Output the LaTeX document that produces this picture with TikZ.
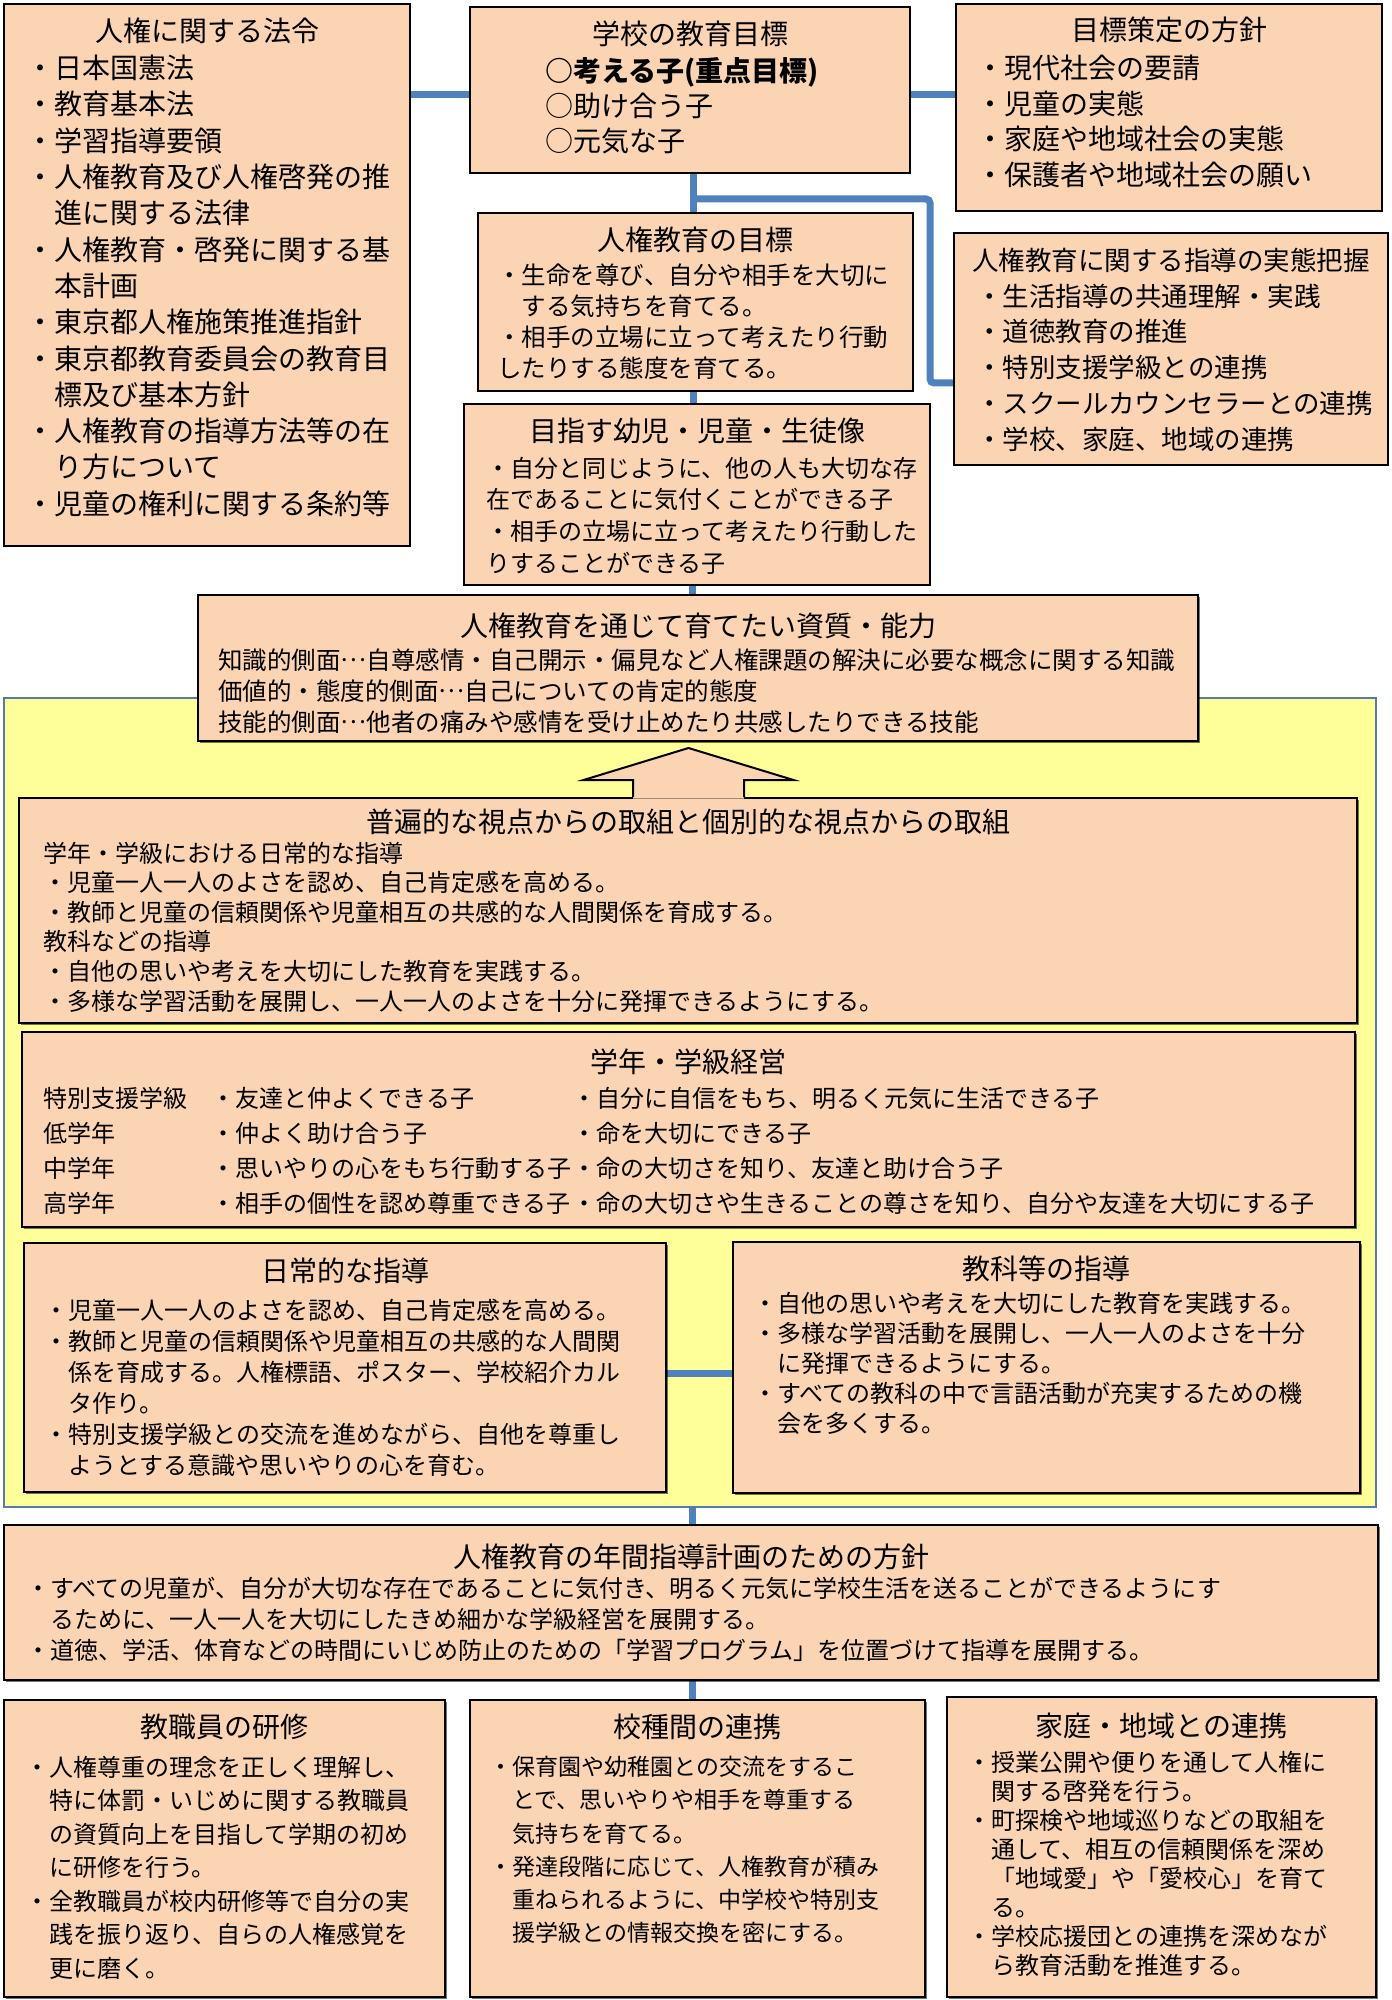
\documentclass[tikz,border=0pt]{standalone}
\usepackage{fontspec}
\setmainfont{Noto Sans CJK JP}
\usetikzlibrary{fit,calc,shadows}
\definecolor{peach}{HTML}{FBD4B4}
\definecolor{paleyellow}{HTML}{FFFF99}
\definecolor{connblue}{HTML}{4F81BD}
\definecolor{frameblue}{HTML}{5A78AE}
\newcommand\fsz[2]{\fontsize{#1}{#2}\selectfont}
\newcommand\middots{\raisebox{0.32em}{…}}
\pgfdeclarelayer{back}
\pgfdeclarelayer{lines}
\pgfsetlayers{back,lines,main}
\begin{document}
\begin{tikzpicture}[x=0.5pt,y=-0.5pt,
  box/.style={draw=black, line width=1pt, fill=peach, inner sep=0pt},
  sbox/.style={box, drop shadow={shadow xshift=1pt, shadow yshift=-1pt, opacity=0.55, fill=black}},
  conn/.style={draw=connblue, line width=3.5pt},
  ttl/.style={inner sep=0pt, anchor=base, font=\fsz{14}{17}},
  txt/.style={inner sep=0pt, anchor=base west, align=left},
]
\useasboundingbox (0,0) rectangle (1391,2000);

\begin{pgfonlayer}{back}
\node[fit={(4,698) (1376,1507)}, inner sep=0pt, draw=frameblue, line width=0.8pt, fill=paleyellow] (Y) {};
\end{pgfonlayer}

% body nodes are placed by the baseline of their last line
% ---------- top row ----------
\node[box, fit={(4,4) (410,546)}] (A) {};
\node[ttl] (At) at ($(A.north)+(0,38.6)$) {人権に関する法令};
\node[txt, font=\fsz{14}{18.15}] (Ab) at (26,514.2) {・日本国憲法\\・教育基本法\\・学習指導要領\\・人権教育及び人権啓発の推\\\hspace*{1em}進に関する法律\\・人権教育・啓発に関する基\\\hspace*{1em}本計画\\・東京都人権施策推進指針\\・東京都教育委員会の教育目\\\hspace*{1em}標及び基本方針\\・人権教育の指導方法等の在\\\hspace*{1em}り方について\\・児童の権利に関する条約等};

\node[box, fit={(470,7) (910,173)}] (B) {};
\node[ttl] (Bt) at ($(B.north)+(0,38.6)$) {学校の教育目標};
\node[txt, font=\fsz{14}{17.5}] (Bb) at (545,151.6) {{\bfseries ○考える子(重点目標)}\\○助け合う子\\○元気な子};

\node[box, fit={(956,4) (1382,211)}] (C) {};
\node[ttl] (Ct) at ($(C.north)+(0,37.6)$) {目標策定の方針};
\node[txt, font=\fsz{14}{17.8}] (Cb) at (976,185.4) {・現代社会の要請\\・児童の実態\\・家庭や地域社会の実態\\・保護者や地域社会の願い};

\node[box, fit={(478,213) (913,391)}] (D) {};
\node[ttl] (Dt) at ($(D.north)+(0,38.6)$) {人権教育の目標};
\node[txt, font=\fsz{12.25}{15.5}] (Db) at (497,377.3) {・生命を尊び、自分や相手を大切に\\\hspace*{1em}する気持ちを育てる。\\・相手の立場に立って考えたり行動\\したりする態度を育てる。};

\node[box, fit={(954,233) (1388,465)}] (E) {};
\node[ttl, font=\fsz{13.25}{16}] (Et) at ($(E.north)+(0,38.1)$) {人権教育に関する指導の実態把握};
\node[txt, font=\fsz{13.25}{17.9}] (Eb) at (976,449.3) {・生活指導の共通理解・実践\\・道徳教育の推進\\・特別支援学級との連携\\・スクールカウンセラーとの連携\\・学校、家庭、地域の連携};

\node[box, fit={(464,404) (930,585)}] (F) {};
\node[ttl] (Ft) at ($(F.north)+(0,38.6)$) {目指す幼児・児童・生徒像};
\node[txt, font=\fsz{12}{15.85}] (Fb) at (486,572.2) {・自分と同じように、他の人も大切な存\\在であることに気付くことができる子\\・相手の立場に立って考えたり行動した\\りすることができる子};

\node[sbox, fit={(198,595) (1198,741)}] (G) {};
\node[ttl] (Gt) at ($(G.north)+(0,42.6)$) {人権教育を通じて育てたい資質・能力};
\node[txt, font=\fsz{12.25}{15.5}] (Gb) at (218,731.3) {知識的側面\middots 自尊感情・自己開示・偏見など人権課題の解決に必要な概念に関する知識\\価値的・態度的側面\middots 自己についての肯定的態度\\技能的側面\middots 他者の痛みや感情を受け止めたり共感したりできる技能};

% ---------- yellow region ----------
\node[sbox, fit={(19,798) (1357,1023)}] (H) {};
\node[ttl] (Ht) at ($(H.north)+(0,35.6)$) {普遍的な視点からの取組と個別的な視点からの取組};
\node[txt, font=\fsz{12}{14.8}] (Hb) at (43,1010.1) {学年・学級における日常的な指導\\・児童一人一人のよさを認め、自己肯定感を高める。\\・教師と児童の信頼関係や児童相互の共感的な人間関係を育成する。\\教科などの指導\\・自他の思いや考えを大切にした教育を実践する。\\・多様な学習活動を展開し、一人一人のよさを十分に発揮できるようにする。};

% block arrow from H up to G
\coordinate (ab) at ($(H.north)+(0.5,0)$);
\coordinate (tip) at ($(G.south -| ab)+(0,6)$);
\fill[peach] ($(ab)+(-55.5,1.5)$) -- ($(ab)+(-55.5,-17)$) -- ($(ab)+(-105,-17)$) -- (tip) -- ($(ab)+(105,-17)$) -- ($(ab)+(55.5,-17)$) -- ($(ab)+(55.5,1.5)$) -- cycle;
\draw[line width=1pt, line join=miter] ($(ab)+(-55.5,0)$) -- ($(ab)+(-55.5,-17)$) -- ($(ab)+(-105,-17)$) -- (tip) -- ($(ab)+(105,-17)$) -- ($(ab)+(55.5,-17)$) -- ($(ab)+(55.5,0)$);

\node[sbox, fit={(22,1032) (1355,1227)}] (I) {};
\node[ttl] (It) at ($(I.north)+(0,41.6)$) {学年・学級経営};
\node[txt, font=\fsz{12}{17.5}] (I1) at (43,1212.1) {特別支援学級\\低学年\\中学年\\高学年};
\node[txt, font=\fsz{12}{17.5}] (I2) at (211,1212.1) {・友達と仲よくできる子\\・仲よく助け合う子\\・思いやりの心をもち行動する子\\・相手の個性を認め尊重できる子};
\node[txt, font=\fsz{12}{17.5}] (I3) at (572,1212.1) {・自分に自信をもち、明るく元気に生活できる子\\・命を大切にできる子\\・命の大切さを知り、友達と助け合う子\\・命の大切さや生きることの尊さを知り、自分や友達を大切にする子};

\node[sbox, fit={(24,1243) (666,1492)}] (J) {};
\node[ttl] (Jt) at ($(J.north)+(0,39.6)$) {日常的な指導};
\node[txt, font=\fsz{12}{15.5}] (Jb) at (44,1474.1) {・児童一人一人のよさを認め、自己肯定感を高める。\\・教師と児童の信頼関係や児童相互の共感的な人間関\\\hspace*{1em}係を育成する。人権標語、ポスター、学校紹介カル\\\hspace*{1em}タ作り。\\・特別支援学級との交流を進めながら、自他を尊重し\\\hspace*{1em}ようとする意識や思いやりの心を育む。};

\node[sbox, fit={(733,1242) (1360,1493)}] (K) {};
\node[ttl] (Kt) at ($(K.north)+(0,38.6)$) {教科等の指導};
\node[txt, font=\fsz{12}{15}] (Kb) at (753,1432.1) {・自他の思いや考えを大切にした教育を実践する。\\・多様な学習活動を展開し、一人一人のよさを十分\\\hspace*{1em}に発揮できるようにする。\\・すべての教科の中で言語活動が充実するための機\\\hspace*{1em}会を多くする。};

% ---------- bottom ----------
\node[sbox, fit={(4,1525) (1378,1680)}] (L) {};
\node[ttl] (Lt) at ($(L.north)+(0,43.6)$) {人権教育の年間指導計画のための方針};
\node[txt, font=\fsz{12}{15.5}] (Lb) at (26,1659.1) {・すべての児童が、自分が大切な存在であることに気付き、明るく元気に学校生活を送ることができるようにす\\\hspace*{1em}るために、一人一人を大切にしたきめ細かな学級経営を展開する。\\・道徳、学活、体育などの時間にいじめ防止のための「学習プログラム」を位置づけて指導を展開する。};

\node[sbox, fit={(4,1700) (445,1997)}] (M) {};
\node[ttl] (Mt) at ($(M.north)+(0,38.6)$) {教職員の研修};
\node[txt, font=\fsz{12}{16.75}] (Mb) at (25,1977.1) {・人権尊重の理念を正しく理解し、\\\hspace*{1em}特に体罰・いじめに関する教職員\\\hspace*{1em}の資質向上を目指して学期の初め\\\hspace*{1em}に研修を行う。\\・全教職員が校内研修等で自分の実\\\hspace*{1em}践を振り返り、自らの人権感覚を\\\hspace*{1em}更に磨く。};

\node[sbox, fit={(470,1700) (925,1997)}] (N) {};
\node[ttl] (Nt) at ($(N.north)+(0,38.6)$) {校種間の連携};
\node[txt, font=\fsz{11.5}{16.6}] (Nb) at (489,1941.7) {・保育園や幼稚園との交流をするこ\\\hspace*{1em}とで、思いやりや相手を尊重する\\\hspace*{1em}気持ちを育てる。\\・発達段階に応じて、人権教育が積み\\\hspace*{1em}重ねられるように、中学校や特別支\\\hspace*{1em}援学級との情報交換を密にする。};

\node[sbox, fit={(947,1697) (1376,1997)}] (O) {};
\node[ttl] (Ot) at ($(O.north)+(0,40.6)$) {家庭・地域との連携};
\node[txt, font=\fsz{12}{14.5}] (Ob) at (967,1974.1) {・授業公開や便りを通して人権に\\\hspace*{1em}関する啓発を行う。\\・町探検や地域巡りなどの取組を\\\hspace*{1em}通して、相互の信頼関係を深め\\\hspace*{1em}「地域愛」や「愛校心」を育て\\\hspace*{1em}る。\\・学校応援団との連携を深めなが\\\hspace*{1em}ら教育活動を推進する。};

% ---------- connectors ----------
\begin{pgfonlayer}{lines}
\draw[conn] ([yshift=-2.25pt]B.west) -- ([yshift=-2.25pt]B.west -| A.east);
\draw[conn] ([yshift=-2.25pt]B.east) -- ([yshift=-2.25pt]B.east -| C.west);
\draw[conn] ([xshift=1.5pt]B.south) -- ([xshift=1.5pt]B.south |- D.north);
\draw[conn] ([xshift=-1pt]D.south) -- ([xshift=-1pt]D.south |- F.north);
\draw[conn] ([xshift=-2.5pt]F.south) -- ([xshift=-2.5pt]F.south |- G.north);
\draw[conn, rounded corners=2pt] ([xshift=1.5pt,yshift=-12.5pt]B.south) -- ++(237,0) |- ([yshift=-17pt]E.west);
\draw[conn] ([yshift=-2.75pt]J.east) -- ([yshift=-2.75pt]J.east -| K.west);
\draw[conn] ([xshift=1pt]Y.south) -- ([xshift=1pt]Y.south |- L.north);
\draw[conn] ([xshift=0.5pt]L.south) -- ([xshift=0.5pt]L.south |- N.north);
\end{pgfonlayer}
\end{tikzpicture}
\end{document}
